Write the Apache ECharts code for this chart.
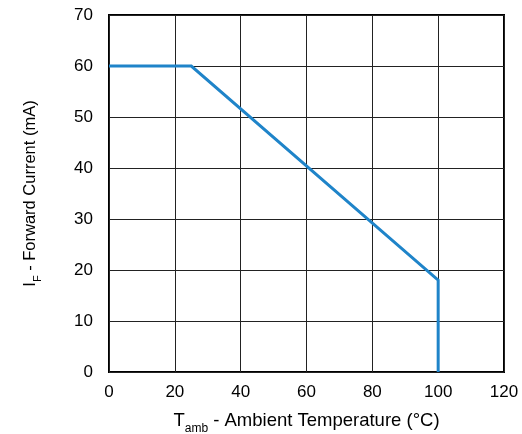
<!DOCTYPE html>
<html>
<head>
<meta charset="utf-8">
<script src="https://cdn.jsdelivr.net/npm/echarts@6/dist/echarts.min.js"></script>
<style>html,body{margin:0;padding:0;background:#fff;}#c{width:522px;height:434px;}</style>
</head>
<body>
<div id="c"></div>
<script>
var temperature = [0, 25, 100, 100];
var forwardCurrent = [60, 60, 18, 0];
var xTicks = [0, 20, 40, 60, 80, 100, 120];
var yTicks = [0, 10, 20, 30, 40, 50, 60, 70];

var chart = echarts.init(document.getElementById('c'), null, {renderer: 'canvas'});
var font = 'Liberation Sans, Arial, sans-serif';
chart.setOption({
  animation: false,
  grid: {left: 109, right: 18, top: 15, bottom: 62, containLabel: false, outerBoundsMode: 'none', show: true, borderColor: '#000', borderWidth: 2, backgroundColor: 'transparent'},
  xAxis: {
    type: 'value', min: xTicks[0], max: xTicks[xTicks.length - 1], interval: 20,
    axisLine: {show: false}, axisTick: {show: false},
    splitLine: {show: true, lineStyle: {color: '#222', width: 1}},
    axisLabel: {color: '#000', fontSize: 17, fontFamily: font, margin: 12},
    name: '{a|T}{b|amb}{a| - Ambient Temperature (°C)}',
    nameLocation: 'middle', nameGap: 36,
    nameTextStyle: {
      color: '#000', fontFamily: font,
      rich: {
        a: {fontSize: 18.5, fontFamily: font, color: '#000', lineHeight: 22, verticalAlign: 'bottom'},
        b: {fontSize: 12, fontFamily: font, color: '#000', lineHeight: 22, verticalAlign: 'bottom', padding: [0, 0, -5, 0]}
      }
    }
  },
  yAxis: {
    type: 'value', min: yTicks[0], max: yTicks[yTicks.length - 1], interval: 10,
    axisLine: {show: false}, axisTick: {show: false},
    splitLine: {show: true, lineStyle: {color: '#222', width: 1}},
    axisLabel: {color: '#000', fontSize: 17, fontFamily: font, margin: 16},
    name: '{a|I}{b|F}{a| - Forward Current (mA)}',
    nameLocation: 'middle', nameGap: 70, nameRotate: 90,
    nameTextStyle: {
      color: '#000', fontFamily: font,
      rich: {
        a: {fontSize: 16.5, fontFamily: font, color: '#000', lineHeight: 20, verticalAlign: 'bottom'},
        b: {fontSize: 11, fontFamily: font, color: '#000', lineHeight: 20, verticalAlign: 'bottom', padding: [0, 0, -4, 0]}
      }
    }
  },
  series: [{
    type: 'line',
    data: temperature.map(function (t, i) { return [t, forwardCurrent[i]]; }),
    showSymbol: false, symbol: 'none',
    lineStyle: {color: '#1f84c9', width: 3, join: 'miter'},
    z: 5
  }]
});
</script>
</body>
</html>
